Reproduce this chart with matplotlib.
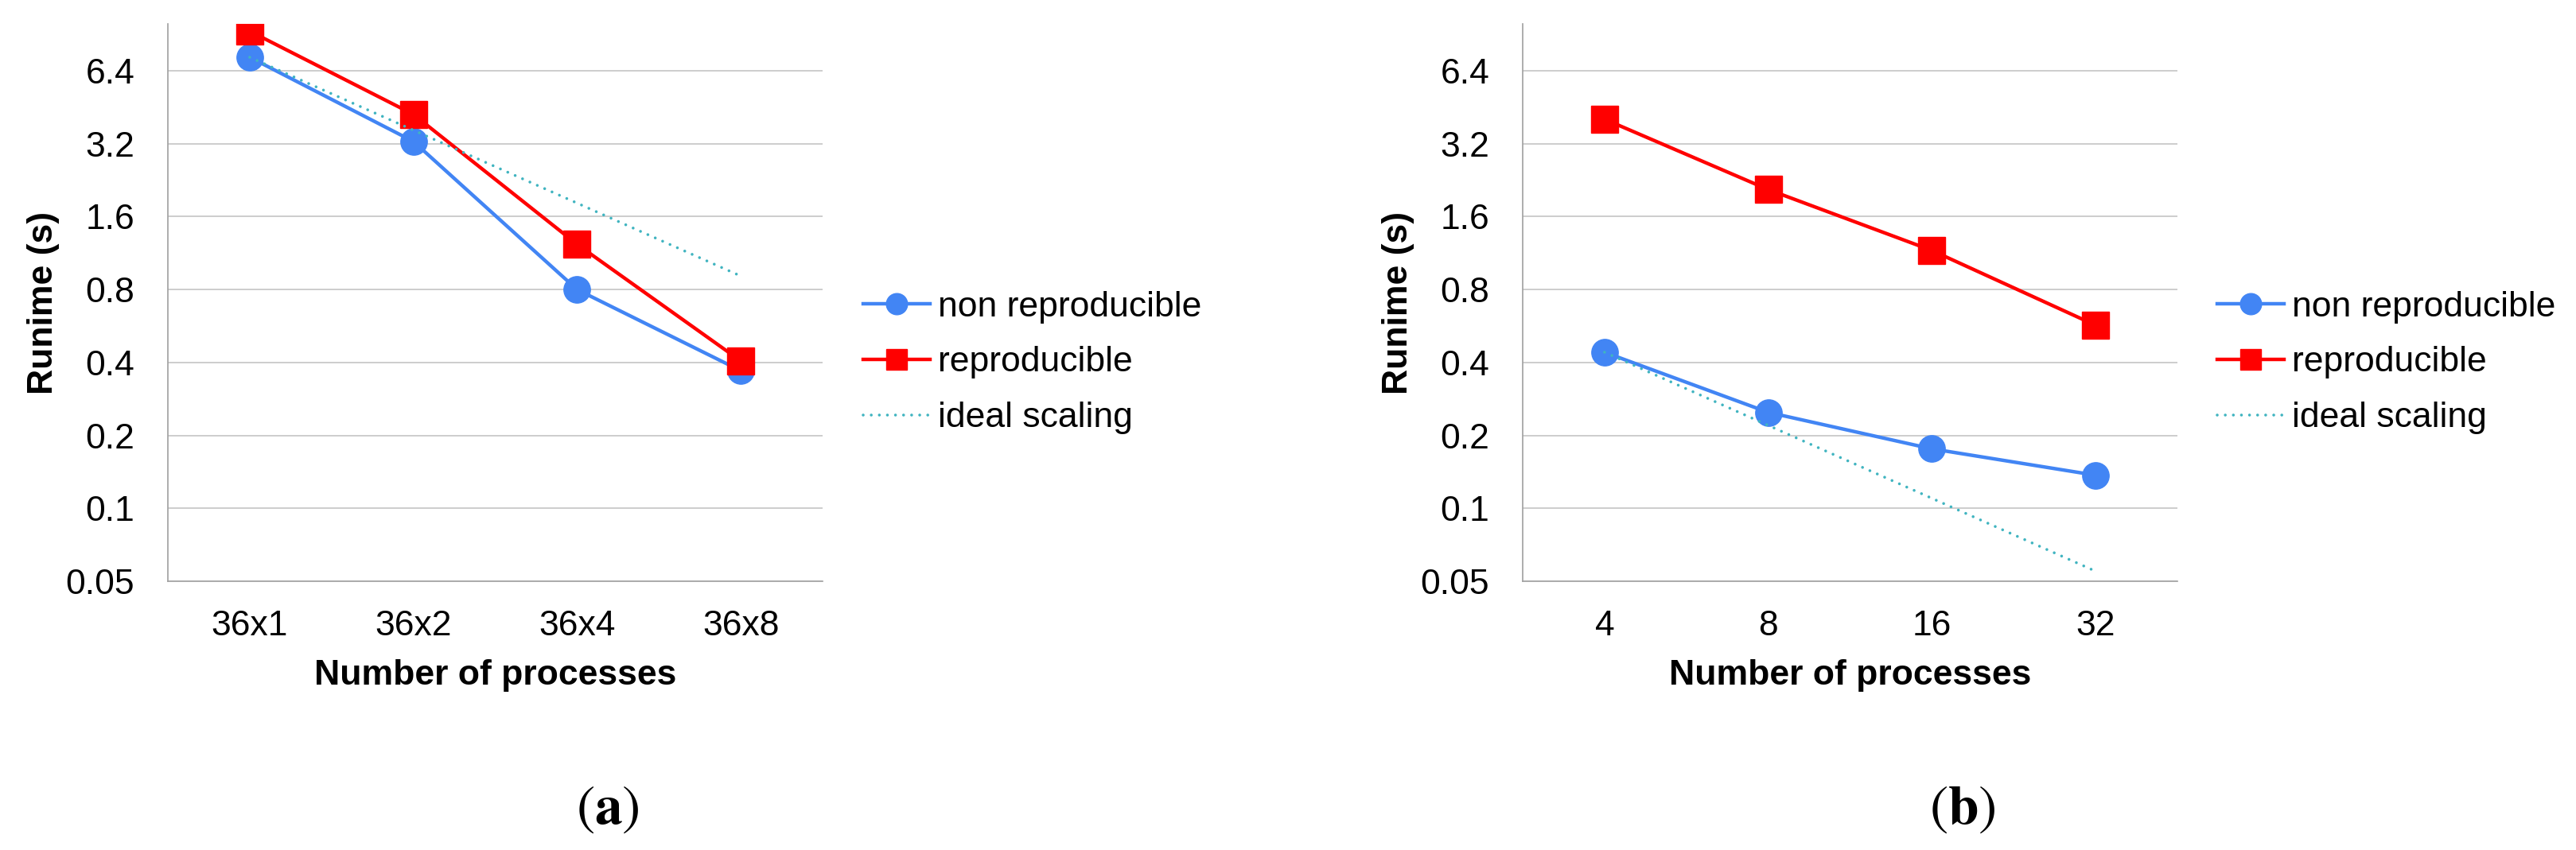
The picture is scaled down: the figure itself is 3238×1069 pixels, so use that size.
import matplotlib
matplotlib.use("Agg")
import matplotlib.pyplot as plt

plt.rcParams["font.family"] = ["Liberation Sans", "DejaVu Sans"]
plt.rcParams["mathtext.fontset"] = "stix"

# data
procs_a = ["36x1", "36x2", "36x4", "36x8"]
nonrepro_a = [7.28, 3.27, 0.80, 0.37]
repro_a = [9.33, 4.23, 1.23, 0.406]
ideal_a = [7.28, 3.64, 1.82, 0.91]

procs_b = ["4", "8", "16", "32"]
nonrepro_b = [0.441, 0.249, 0.176, 0.137]
repro_b = [4.04, 2.07, 1.16, 0.57]
ideal_b = [0.441, 0.22, 0.11, 0.055]

yticks = [0.05, 0.1, 0.2, 0.4, 0.8, 1.6, 3.2, 6.4]
ytick_labels = ["0.05", "0.1", "0.2", "0.4", "0.8", "1.6", "3.2", "6.4"]

BLUE, RED, TEAL = "#4285F4", "#FF0000", "#40B4C0"
FS = 32
W, H = 3238, 1069

fig = plt.figure(figsize=(W / 100, H / 100), dpi=100)


def panel(left_px, cats, nonrepro, repro, ideal, leg_x_px, tag, tag_x_px):
    ax = fig.add_axes([left_px / W, (H - 731) / H, 823 / W, 701 / H])
    x = list(range(len(cats)))
    ax.plot(x, nonrepro, "-o", color=BLUE, lw=3.2, ms=24, zorder=3, label="non reproducible")
    ax.plot(x, repro, "-s", color=RED, lw=3.2, ms=24, zorder=4, label="reproducible")
    ax.plot(x, ideal, color=TEAL, lw=2.6, ls=(0, (0.01, 2.8)), dash_capstyle="round",
            zorder=5, label="ideal scaling")
    ax.set_yscale("log")
    ax.set_ylim(0.05, 10)
    ax.set_xlim(-0.5, len(cats) - 0.5)
    ax.yaxis.set_major_locator(matplotlib.ticker.FixedLocator(yticks))
    ax.yaxis.set_minor_locator(matplotlib.ticker.NullLocator())
    ax.set_yticklabels(ytick_labels)
    ax.set_xticks(x)
    ax.set_xticklabels(cats)
    ax.tick_params(axis="both", length=0, labelsize=FS)
    ax.tick_params(axis="y", pad=30)
    ax.tick_params(axis="x", pad=26)
    ax.grid(axis="y", color="#C0C0C0", lw=1.1, zorder=0)
    for s in ["top", "right"]:
        ax.spines[s].set_visible(False)
    for s in ["left", "bottom"]:
        ax.spines[s].set_color("#A0A0A0")
        ax.spines[s].set_linewidth(1.2)
    ax.set_ylabel("Runime (s)", fontsize=FS, fontweight="bold")
    ax.yaxis.set_label_coords(-0.165, 0.5)
    ax.set_xlabel("Number of processes", fontsize=FS, fontweight="bold")
    ax.xaxis.set_label_coords(0.5, -0.14)
    ax.legend(loc="center left", bbox_to_anchor=(leg_x_px / W, (H - 456) / H),
              bbox_transform=fig.transFigure, frameon=False, fontsize=FS,
              borderpad=0, borderaxespad=0, handlelength=1.9, handletextpad=0.22,
              labelspacing=0.65, markerscale=0.8)
    fig.text(tag_x_px / W, 51 / H, r"$(\mathbf{" + tag + r"})$", fontsize=50,
             ha="center", va="center")
    return ax


panel(211, procs_a, nonrepro_a, repro_a, ideal_a, 1085, "a", 764)
panel(1914, procs_b, nonrepro_b, repro_b, ideal_b, 2787, "b", 2467)

fig.savefig("out.png", dpi=100)
